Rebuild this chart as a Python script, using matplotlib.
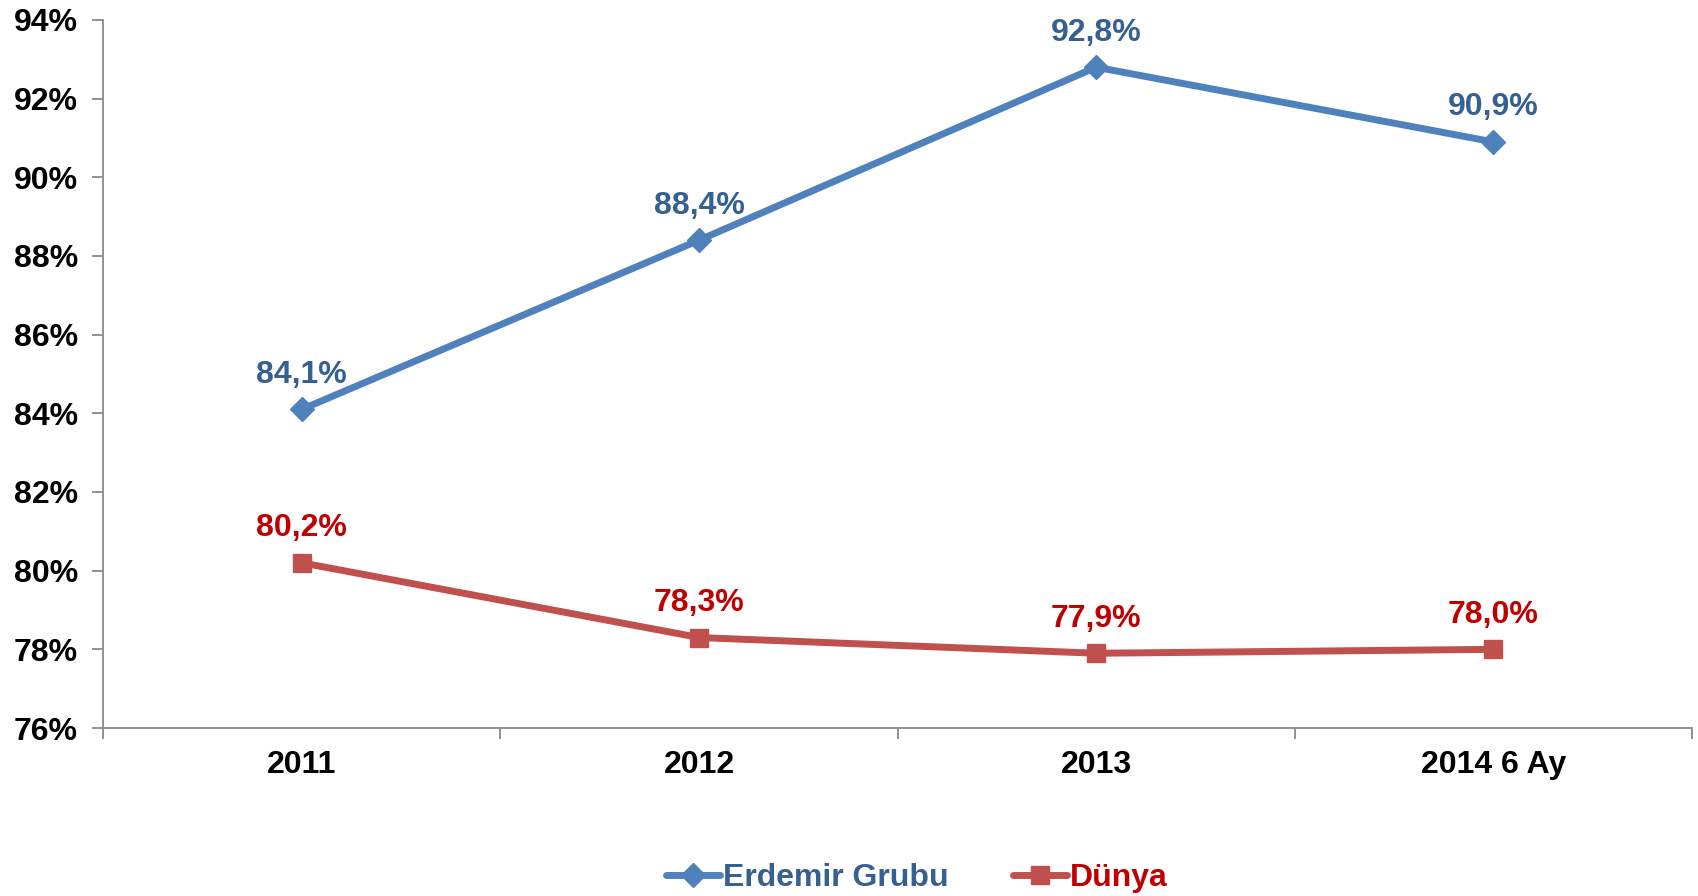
import matplotlib.pyplot as plt
from matplotlib.ticker import FuncFormatter

plt.rcParams['font.family'] = ['Liberation Sans', 'DejaVu Sans']
plt.rcParams['font.weight'] = 'bold'

categories = ['2011', '2012', '2013', '2014 6 Ay']
erdemir = [84.1, 88.4, 92.8, 90.9]
dunya = [80.2, 78.3, 77.9, 78.0]

blue_line = '#4F81BD'
blue_text = '#376092'
red_line = '#C0504D'
red_text = '#C00000'
axis_gray = '#898989'

fig = plt.figure(figsize=(16.98, 8.96), dpi=100)
ax = fig.add_axes([0.0607, 0.1875, 0.9358, 0.7902])

x = list(range(len(categories)))
ax.plot(x, erdemir, color=blue_line, lw=5, marker='D', ms=12,
        label='Erdemir Grubu', solid_capstyle='round')
ax.plot(x, dunya, color=red_line, lw=5, marker='s', ms=13,
        label='Dünya', solid_capstyle='round')

for xi, v in zip(x, erdemir):
    ax.annotate(f'{v:.1f}%'.replace('.', ','), (xi, v), xytext=(0, 14),
                textcoords='offset points', ha='center', va='bottom',
                fontsize=23, fontweight='bold', color=blue_text)
for xi, v in zip(x, dunya):
    ax.annotate(f'{v:.1f}%'.replace('.', ','), (xi, v), xytext=(0, 14),
                textcoords='offset points', ha='center', va='bottom',
                fontsize=23, fontweight='bold', color=red_text)

ax.set_xlim(-0.5, len(categories) - 0.5)
ax.set_ylim(76, 94)
ax.set_yticks(range(76, 95, 2))
ax.yaxis.set_major_formatter(FuncFormatter(lambda v, p: f'{v:.0f}%'))
ax.set_xticks(x)
ax.set_xticklabels(categories)
ax.set_xticks([i + 0.5 for i in range(-1, len(categories))], minor=True)
ax.tick_params(axis='x', which='major', length=0, pad=16, labelsize=23)
ax.tick_params(axis='x', which='minor', length=8, width=1.3, color=axis_gray)
ax.tick_params(axis='y', length=8, width=1.3, color=axis_gray, pad=10, labelsize=23)
for lab in ax.get_xticklabels() + ax.get_yticklabels():
    lab.set_fontweight('bold')

for s in ['top', 'right']:
    ax.spines[s].set_visible(False)
for s in ['left', 'bottom']:
    ax.spines[s].set_color(axis_gray)
    ax.spines[s].set_linewidth(1.3)

leg = fig.legend(loc='center', bbox_to_anchor=(0.54, 0.02), ncol=2, frameon=False,
                 fontsize=23, handlelength=1.7, columnspacing=2.0, handletextpad=0.1)
for t, c in zip(leg.get_texts(), [blue_text, red_text]):
    t.set_color(c)
    t.set_fontweight('bold')

fig.savefig('out.png', dpi=100)
